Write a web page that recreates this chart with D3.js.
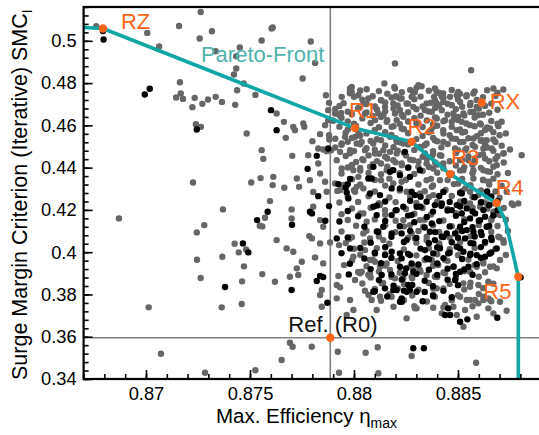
<!DOCTYPE html>
<html><head><meta charset="utf-8">
<script src="https://cdn.jsdelivr.net/npm/d3@7"></script>
<style>
html,body{margin:0;padding:0;background:#fff;}
svg{display:block;font-family:"Liberation Sans",Arial,Helvetica,sans-serif;}
</style></head>
<body>
<svg id="c" width="539" height="435"></svg>
<script>
// ---------- DATA ----------
const xTicks = [0.87, 0.875, 0.88, 0.885];
const xTickLabels = ["0.87", "0.875", "0.88", "0.885"];
const yTicks = [0.34, 0.36, 0.38, 0.4, 0.42, 0.44, 0.46, 0.48, 0.5];
const yTickLabels = ["0.34", "0.36", "0.38", "0.4", "0.42", "0.44", "0.46", "0.48", "0.5"];

// all evaluated designs (grey), scattered part
const grayPoints = [
[0.86761,0.5069],[0.87006,0.50374],[0.87063,0.4973],[0.87159,0.50704],[0.87263,0.51366],[0.87258,0.50109],
[0.87317,0.50454],[0.87335,0.49508],[0.87451,0.49683],[0.87434,0.49272],[0.87556,0.50014],[0.87604,0.50582],
[0.87434,0.4869],[0.87423,0.48407],[0.8747,0.47981],[0.87438,0.47664],[0.87526,0.47442],[0.87163,0.48043],
[0.87167,0.47508],[0.87145,0.4732],[0.87178,0.47253],[0.87234,0.47301],[0.87298,0.47225],[0.87335,0.47348],
[0.87365,0.47111],[0.87271,0.47017],[0.87223,0.46862],[0.87429,0.4697],[0.8724,0.46057],[0.87264,0.45929],
[0.87484,0.45617],[0.87556,0.44828],[0.87564,0.44416],[0.87226,0.433],[0.87506,0.433],[0.87551,0.43504],
[0.87596,0.42416],[0.8737,0.42024],[0.87572,0.41627],[0.87547,0.41248],[0.87559,0.41219],[0.8728,0.41281],
[0.87244,0.40936],[0.87426,0.40397],[0.87446,0.3999],[0.87481,0.40132],[0.87367,0.39782],[0.87245,0.39641],
[0.87471,0.39329],[0.87263,0.38775],[0.87462,0.38619],[0.87559,0.38964],[0.8687,0.41598],[0.87013,0.3739],
[0.87364,0.3739],[0.8746,0.37546],[0.87072,0.35196],[0.87284,0.34298],[0.87526,0.34411],[0.87609,0.50629],
[0.87792,0.49967],[0.87753,0.48218],[0.87813,0.48955],[0.87865,0.47428],[0.8788,0.47064],[0.87876,0.46719],
[0.87909,0.46563],[0.87938,0.46593],[0.87941,0.47348],[0.87981,0.47664],[0.87989,0.4782],[0.88021,0.47428],
[0.87628,0.46563],[0.87663,0.46166],[0.87672,0.45409],[0.87708,0.45929],[0.87716,0.45773],[0.87756,0.46089],
[0.87761,0.45929],[0.878,0.45253],[0.87837,0.45584],[0.87861,0.4601],[0.87876,0.46246],[0.87881,0.45333],
[0.87828,0.44908],[0.87852,0.44861],[0.87869,0.4478],[0.87703,0.44558],[0.8778,0.44591],[0.87828,0.44199],
[0.87837,0.43726],[0.87941,0.45144],[0.87933,0.44747],[0.87981,0.44828],[0.88013,0.45144],[0.88005,0.45456],
[0.88021,0.45645],[0.87957,0.45456],[0.87917,0.44355],[0.87941,0.43962],[0.87986,0.44071],[0.87997,0.43882],
[0.88021,0.43565],[0.87612,0.43565],[0.87609,0.43173],[0.87665,0.43045],[0.87725,0.43489],[0.87736,0.43092],
[0.87788,0.43409],[0.87804,0.4285],[0.87861,0.43329],[0.87869,0.42856],[0.87909,0.43253],[0.87933,0.42936],
[0.88013,0.43092],[0.88005,0.42856],
[0.877,0.42024],[0.877,0.41598],[0.87804,0.42147],[0.87837,0.41518],[0.87852,0.41201],[0.87628,0.40572],
[0.87785,0.40761],[0.87798,0.40652],[0.87837,0.40416],[0.87885,0.40463],[0.87928,0.40336],[0.87977,0.40619],
[0.87676,0.4018],[0.87708,0.40019],[0.87749,0.39546],[0.87725,0.39234],[0.87732,0.38917],[0.87813,0.39754],
[0.87852,0.3947],[0.87692,0.38837],[0.8762,0.386],[0.87925,0.3887],[0.87917,0.38444],[0.87933,0.38336],
[0.87952,0.3939],[0.87997,0.39782],[0.88005,0.38681],[0.87845,0.38208],[0.87837,0.37972],[0.87845,0.37418],
[0.87917,0.37816],[0.87997,0.37262],[0.87965,0.37026],[0.88029,0.38998],[0.88077,0.38998],[0.87981,0.37735],
[0.88053,0.38175],[0.88085,0.37735],[0.88133,0.38525],[0.88253,0.3687],[0.88301,0.37343],[0.88381,0.37371],
[0.88398,0.38288],[0.88494,0.37026],[0.88646,0.37343],[0.88734,0.37229],[0.8859,0.36946],[0.88558,0.37735],
[0.88622,0.37735],[0.88646,0.37816],[0.88277,0.35087],[0.88114,0.35499],[0.88056,0.35244],[0.88117,0.34271],
[0.87928,0.34298],[0.87922,0.35291],[0.87797,0.35527],[0.87705,0.35527],[0.87692,0.35716],[0.87652,0.34898],
[0.88587,0.34771],
[0.88197,0.48927],[0.88563,0.4861],[0.87981,0.47745],[0.87989,0.47584],[0.88061,0.47711],[0.88146,0.47981],
[0.88197,0.47745],[0.88205,0.47348],[0.88229,0.47272],[0.88285,0.47537],[0.88301,0.47792],[0.88325,0.47853],
[0.88389,0.47745],[0.88398,0.47584],[0.88422,0.47348],[0.88462,0.47348],[0.88501,0.47584],[0.88542,0.47428],
[0.88574,0.47508],[0.8867,0.47745],[0.88718,0.47697],[0.88558,0.46956],[0.88574,0.4664],[0.88598,0.46483],
[0.88654,0.45853],[0.88694,0.45962],[0.88638,0.453],[0.88718,0.44671],[0.88686,0.44118],[0.88806,0.44591],
[0.88758,0.42307],[0.8879,0.42307],
[0.88194,0.4782],[0.88202,0.47381],[0.88069,0.47272],[0.8831,0.47901],[0.88293,0.47584],[0.88277,0.47348],
[0.88221,0.47272],[0.88385,0.47348],[0.88429,0.47508],[0.8813,0.47192],[0.88149,0.46875],[0.88101,0.46875],
[0.88189,0.47036],[0.88221,0.46719],[0.88197,0.46563],[0.88253,0.47036],[0.88285,0.46875],[0.88349,0.47036],
[0.88398,0.47036],[0.88429,0.47111],[0.88341,0.46719],[0.88374,0.4664],[0.88422,0.46719],[0.88045,0.47036],
[0.88053,0.46563],[0.88117,0.46563],[0.88141,0.46483],[0.88101,0.46246],[0.88157,0.46166],[0.88205,0.46246],
[0.88237,0.46402],[0.88181,0.45929],[0.88229,0.45853],[0.88398,0.46326],[0.88438,0.46246],[0.88381,0.45929],
[0.88429,0.45773],[0.88037,0.45219],[0.88093,0.45144],[0.8813,0.453],[0.88173,0.45456],[0.88205,0.45219],
[0.88237,0.45144],[0.88317,0.44984],[0.88349,0.45144],[0.88389,0.453],[0.88429,0.45219],[0.88053,0.44828],
[0.88101,0.44671],[0.88141,0.44828],[0.88173,0.44747],[0.88205,0.44671],[0.88341,0.44671],[0.88374,0.44511],
[0.88413,0.44591],[0.88045,0.44355],[0.88077,0.44038],[0.8813,0.44199],[0.88157,0.43882],[0.88189,0.44355],
[0.88229,0.44199],[0.88285,0.44355],[0.88309,0.44038],[0.88349,0.44199],[0.88381,0.43962],[0.88429,0.44199],
[0.8813,0.43409],[0.88189,0.43253],[0.88229,0.43329],[0.88349,0.43409],[0.88374,0.43092],[0.88413,0.43409],
[0.88045,0.43017],[0.88253,0.42856],[0.88317,0.4278],[0.88381,0.427],[0.88429,0.42856],
[0.88494,0.47428],[0.8851,0.47111],[0.8847,0.46956],[0.8859,0.46875],[0.88478,0.46563],[0.88501,0.46402],
[0.88526,0.46563],[0.8847,0.46166],[0.88518,0.46166],[0.88558,0.4601],[0.88606,0.46089],[0.88494,0.45773],
[0.88534,0.45693],[0.8847,0.4538],[0.88526,0.45219],[0.88574,0.4538],[0.88614,0.453],[0.88486,0.44908],
[0.88534,0.44828],[0.88582,0.44984],[0.88622,0.44908],[0.88662,0.44908],[0.8851,0.44355],[0.8855,0.44355],
[0.88582,0.44435],[0.8863,0.44435],[0.88526,0.43882],[0.88574,0.43882],[0.88622,0.43882],[0.88654,0.43801],
[0.88574,0.43489],[0.88622,0.43409],[0.88646,0.43329],[0.88501,0.43253],[0.88534,0.43017],[0.88558,0.42856],
[0.88598,0.427],[0.88734,0.42856],
[0.88045,0.41835],[0.88061,0.41437],[0.88125,0.42227],[0.88149,0.4199],[0.88237,0.41518],[0.88269,0.41281],
[0.88317,0.41518],[0.88333,0.41201],[0.88045,0.40889],[0.88077,0.40652],[0.88141,0.40572],[0.88277,0.40889],
[0.88293,0.40652],[0.88349,0.40572],[0.88413,0.40255],[0.88053,0.40099],[0.88077,0.39627],[0.88101,0.39546],
[0.88125,0.3931],[0.88157,0.3947],[0.88173,0.39154],[0.88293,0.3931],[0.88317,0.39154],[0.88374,0.39627],
[0.88405,0.3939],[0.88438,0.39627],[0.88037,0.39073],[0.88069,0.38917],[0.88197,0.38761],[0.88237,0.38761],
[0.88277,0.38837],[0.88349,0.38917],[0.88389,0.38837],[0.88438,0.38998],[0.88125,0.37891],[0.88181,0.37891],
[0.88293,0.37343],[0.88381,0.38288],[0.88389,0.37891],[0.88438,0.37499],[0.88422,0.37106],[0.88109,0.37262],
[0.88606,0.42147],[0.88638,0.42307],[0.8867,0.41911],[0.88662,0.41598],[0.88702,0.41754],[0.88766,0.42227],
[0.88558,0.42307],[0.8851,0.42383],[0.88694,0.40728],[0.88718,0.40572],[0.88702,0.39627],[0.88686,0.39234],
[0.88622,0.3947],[0.88654,0.3931],[0.8859,0.3931],[0.88558,0.39073],[0.88526,0.38525],[0.88558,0.38364],
[0.88598,0.38444],[0.88646,0.386],[0.8851,0.37891],[0.88542,0.37735],[0.88582,0.37735],[0.88622,0.37891],
[0.88478,0.37418],[0.88534,0.37262],[0.88598,0.37579],[0.88654,0.37735],[0.8867,0.37106],[0.88702,0.37655],
[0.88526,0.36473]
];

// all evaluated designs (grey), dense cluster
const grayCluster = [
[0.8803,0.4765],[0.8812,0.4762],[0.8827,0.4768],[0.8836,0.4764],[0.8847,0.4767],[0.8858,0.4761],[0.8864,0.4766],
[0.8800,0.4735],[0.8809,0.4738],[0.8818,0.4732],[0.8832,0.4736],[0.8843,0.4731],[0.8854,0.4737],[0.8862,0.4733],[0.8868,0.4739],
[0.8795,0.4705],[0.8806,0.4701],[0.8815,0.4708],[0.8826,0.4703],[0.8837,0.4707],[0.8845,0.4702],[0.8856,0.4706],[0.8866,0.4703],
[0.8791,0.4678],[0.8802,0.4681],[0.8811,0.4675],[0.8819,0.4680],[0.8830,0.4676],[0.8839,0.4682],[0.8849,0.4677],[0.8860,0.4679],[0.8869,0.4674],
[0.8793,0.4648],[0.8799,0.4652],[0.8809,0.4645],[0.8823,0.4650],[0.8832,0.4646],[0.8845,0.4651],[0.8853,0.4647],[0.8862,0.4650],
[0.8790,0.4622],[0.8797,0.4619],[0.8816,0.4624],[0.8826,0.4618],[0.8835,0.4623],[0.8843,0.4620],[0.8850,0.4625],[0.8866,0.4621],[0.8871,0.4617],
[0.8793,0.4594],[0.8801,0.4597],[0.8812,0.4591],[0.8819,0.4596],[0.8833,0.4592],[0.8840,0.4598],[0.8847,0.4593],[0.8858,0.4596],[0.8864,0.4590],
[0.8796,0.4565],[0.8806,0.4562],[0.8815,0.4568],[0.8826,0.4563],[0.8836,0.4567],[0.8843,0.4561],[0.8852,0.4566],[0.8861,0.4563],[0.8867,0.4568],[0.8873,0.4562],
[0.8791,0.4537],[0.8799,0.4540],[0.8811,0.4534],[0.8820,0.4539],[0.8830,0.4535],[0.8838,0.4541],[0.8849,0.4536],[0.8855,0.4539],[0.8867,0.4533],
[0.8794,0.4508],[0.8803,0.4511],[0.8815,0.4505],[0.8826,0.4510],[0.8834,0.4506],[0.8845,0.4512],[0.8857,0.4507],[0.8863,0.4510],[0.8871,0.4504],
[0.8789,0.4482],[0.8800,0.4479],[0.8810,0.4485],[0.8821,0.4480],[0.8829,0.4484],[0.8838,0.4478],[0.8850,0.4483],[0.8867,0.4480],[0.8875,0.4486],
[0.8796,0.4455],[0.8807,0.4458],[0.8815,0.4452],[0.8825,0.4457],[0.8833,0.4451],[0.8842,0.4456],[0.8855,0.4453],[0.8860,0.4459],[0.8869,0.4454],
[0.8801,0.4427],[0.8811,0.4431],[0.8820,0.4425],[0.8831,0.4429],[0.8839,0.4424],[0.8846,0.4430],[0.8858,0.4426],[0.8865,0.4430],[0.8872,0.4424],
[0.8797,0.4401],[0.8803,0.4398],[0.8816,0.4404],[0.8826,0.4399],[0.8836,0.4403],[0.8843,0.4397],[0.8853,0.4402],[0.8861,0.4399],[0.8867,0.4404],
[0.8794,0.4372],[0.8807,0.4375],[0.8813,0.4369],[0.8822,0.4374],[0.8829,0.4370],[0.8840,0.4376],[0.8847,0.4371],[0.8857,0.4374],[0.8869,0.4369],[0.8874,0.4375],
[0.8799,0.4345],[0.8810,0.4342],[0.8817,0.4348],[0.8825,0.4343],[0.8837,0.4347],[0.8845,0.4341],[0.8852,0.4346],[0.8862,0.4343],[0.8867,0.4348],
[0.8795,0.4318],[0.8803,0.4321],[0.8815,0.4315],[0.8831,0.4320],[0.8838,0.4316],[0.8848,0.4322],[0.8856,0.4317],[0.8865,0.4320],[0.8871,0.4314],
[0.8792,0.4290],[0.8800,0.4293],[0.8810,0.4287],[0.8822,0.4292],[0.8834,0.4288],[0.8844,0.4294],[0.8852,0.4289],[0.8861,0.4292],[0.8868,0.4287],
[0.8797,0.4262],[0.8807,0.4265],[0.8817,0.4259],[0.8827,0.4264],[0.8836,0.4260],[0.8847,0.4266],[0.8857,0.4261],[0.8864,0.4264],[0.8870,0.4258],
[0.8793,0.4235],[0.8802,0.4238],[0.8812,0.4232],[0.8820,0.4237],[0.8830,0.4233],[0.8840,0.4239],[0.8853,0.4234],[0.8862,0.4237],[0.8867,0.4231],
[0.8799,0.4207],[0.8808,0.4210],[0.8825,0.4204],[0.8833,0.4209],[0.8845,0.4205],[0.8857,0.4211],[0.8864,0.4206],[0.8872,0.4209],
[0.8794,0.4180],[0.8803,0.4183],[0.8815,0.4177],[0.8829,0.4182],[0.8837,0.4178],[0.8849,0.4184],[0.8868,0.4179],
[0.8797,0.4152],[0.8810,0.4155],[0.8820,0.4149],[0.8834,0.4154],[0.8843,0.4150],[0.8853,0.4156],[0.8866,0.4151],[0.8873,0.4154],
[0.8801,0.4125],[0.8815,0.4128],[0.8824,0.4122],[0.8838,0.4127],[0.8847,0.4123],[0.8860,0.4129],[0.8869,0.4124],
[0.8794,0.4098],[0.8806,0.4101],[0.8820,0.4095],[0.8831,0.4100],[0.8841,0.4096],[0.8850,0.4102],[0.8866,0.4097],[0.8874,0.4100],
[0.8799,0.4071],[0.8812,0.4074],[0.8826,0.4068],[0.8835,0.4073],[0.8846,0.4069],[0.8856,0.4075],[0.8870,0.4070],
[0.8796,0.4043],[0.8805,0.4046],[0.8817,0.4040],[0.8830,0.4045],[0.8841,0.4041],[0.8851,0.4047],[0.8863,0.4042],[0.8872,0.4045],
[0.8800,0.4016],[0.8811,0.4019],[0.8824,0.4013],[0.8836,0.4018],[0.8846,0.4014],[0.8858,0.4020],[0.8868,0.4015],
[0.8803,0.3988],[0.8815,0.3991],[0.8830,0.3985],[0.8840,0.3990],[0.8850,0.3986],[0.8865,0.3992],[0.8873,0.3987],
[0.8799,0.3961],[0.8809,0.3964],[0.8821,0.3958],[0.8834,0.3963],[0.8845,0.3959],[0.8855,0.3965],[0.8862,0.3960],
[0.8806,0.3934],[0.8815,0.3937],[0.8827,0.3931],[0.8838,0.3936],[0.8848,0.3932],[0.8858,0.3938],[0.8867,0.3933],
[0.8802,0.3906],[0.8812,0.3909],[0.8822,0.3903],[0.8832,0.3908],[0.8843,0.3904],[0.8853,0.3910],[0.8863,0.3905],
[0.8808,0.3880],[0.8818,0.3883],[0.8828,0.3877],[0.8840,0.3882],[0.8849,0.3878],[0.8860,0.3884],
[0.8804,0.3852],[0.8814,0.3855],[0.8824,0.3849],[0.8836,0.3854],[0.8846,0.3850],[0.8856,0.3856],[0.8867,0.3851],
[0.8810,0.3826],[0.8821,0.3829],[0.8831,0.3823],[0.8843,0.3828],[0.8853,0.3824],[0.8862,0.3830],
[0.8807,0.3798],[0.8817,0.3801],[0.8828,0.3795],[0.8838,0.3800],[0.8850,0.3796],[0.8860,0.3802],
[0.8813,0.3770],[0.8824,0.3773],[0.8835,0.3767],[0.8847,0.3772],[0.8866,0.3768],
[0.8819,0.3742],[0.8829,0.3745],[0.8843,0.3739],[0.8857,0.3744],
[0.8798,0.4752],[0.8816,0.4750],[0.8823,0.4757],[0.8841,0.4753],[0.8851,0.4749],[0.8869,0.4755],
[0.8804,0.4722],[0.8813,0.4719],[0.8829,0.4724],[0.8839,0.4718],[0.8850,0.4723],[0.8859,0.4720],
[0.8793,0.4692],[0.8810,0.4690],[0.8821,0.4694],[0.8833,0.4689],[0.8841,0.4693],[0.8852,0.4688],[0.8863,0.4692],
[0.8797,0.4665],[0.8806,0.4661],[0.8815,0.4667],[0.8826,0.4662],[0.8836,0.4666],[0.8856,0.4663],[0.8865,0.4660],
[0.8794,0.4636],[0.8804,0.4633],[0.8813,0.4639],[0.8829,0.4634],[0.8839,0.4638],[0.8848,0.4632],[0.8858,0.4637],
[0.8800,0.4608],[0.8808,0.4611],[0.8822,0.4606],[0.8830,0.4610],[0.8838,0.4605],[0.8854,0.4609],[0.8861,0.4604],[0.8869,0.4608],
[0.8797,0.4580],[0.8810,0.4578],[0.8824,0.4582],[0.8837,0.4577],[0.8851,0.4581],[0.8863,0.4578],
[0.8788,0.4553],[0.8803,0.4551],[0.8818,0.4555],[0.8833,0.4550],[0.8846,0.4554],[0.8859,0.4549],[0.8870,0.4553],
[0.8797,0.4522],[0.8808,0.4526],[0.8822,0.4520],[0.8840,0.4525],[0.8851,0.4521],[0.8861,0.4527],[0.8868,0.4521],
[0.8791,0.4495],[0.8806,0.4492],[0.8819,0.4497],[0.8832,0.4493],[0.8842,0.4496],[0.8854,0.4491],[0.8864,0.4495],
[0.8798,0.4468],[0.8812,0.4466],[0.8824,0.4470],[0.8838,0.4465],[0.8849,0.4469],[0.8862,0.4464],[0.8872,0.4468],
[0.8804,0.4440],[0.8816,0.4443],[0.8827,0.4438],[0.8835,0.4442],[0.8852,0.4437],[0.8868,0.4441],
[0.8799,0.4413],[0.8809,0.4416],[0.8823,0.4411],[0.8840,0.4415],[0.8849,0.4410],[0.8857,0.4414],
[0.8803,0.4386],[0.8818,0.4388],[0.8833,0.4384],[0.8851,0.4387],[0.8864,0.4383]
];

// feasible designs (black), scattered part
const blackPoints = [
[0.86793,0.50468],[0.86796,0.50061],[0.86994,0.47461],[0.87018,0.47729],[0.87601,0.46719],[0.87244,0.45806],
[0.87585,0.41911],[0.87534,0.41518],[0.87466,0.40416],[0.87492,0.3999],[0.8738,0.3835],[0.87628,0.45773],
[0.87876,0.44908],[0.87821,0.44558],[0.87777,0.43943],[0.87828,0.42652],[0.87981,0.4347],[0.8797,0.4322],
[0.8796,0.43064],[0.87965,0.42828],[0.87973,0.42544],[0.87925,0.4322],[0.87702,0.41296],[0.87788,0.41911],
[0.87798,0.41835],[0.87862,0.41485],[0.87917,0.40652],[0.87981,0.4018],[0.87821,0.38634],[0.87837,0.3887],
[0.87852,0.38822],[0.87975,0.3895],[0.877,0.38208],[0.87872,0.37607],[0.88149,0.38288],[0.88189,0.38208],
[0.88221,0.37655],[0.88253,0.38128],[0.88301,0.38128],[0.88453,0.37343],[0.88462,0.37026],[0.8851,0.36709],
[0.88545,0.36823],[0.88689,0.36898],[0.88285,0.35452],[0.88336,0.35452],[0.88801,0.38809],
[0.88245,0.44747],[0.88093,0.44038],[0.88085,0.43489],[0.88173,0.43801],[0.88189,0.43882],[0.88221,0.43645],
[0.88261,0.4401],[0.88317,0.43882],[0.88069,0.43489],[0.88269,0.43565],[0.88181,0.43017],[0.88221,0.43017],
[0.88277,0.42856],[0.88293,0.427],[0.88077,0.4278],[0.88125,0.427],[0.88518,0.4278],
[0.88093,0.42147],[0.88109,0.41754],[0.88181,0.41754],[0.88205,0.4199],[0.88237,0.42147],[0.88277,0.41754],
[0.88301,0.42147],[0.88349,0.42383],[0.88389,0.42227],[0.88422,0.42307],[0.88117,0.40965],[0.88141,0.41201],
[0.88181,0.40889],[0.88229,0.40889],[0.88253,0.40572],[0.88374,0.41362],[0.88365,0.40965],[0.88389,0.40572],
[0.88422,0.40728],[0.88446,0.40889],[0.88101,0.39943],[0.88149,0.39863],[0.88181,0.40019],[0.88221,0.39943],
[0.88229,0.39707],[0.88269,0.39863],[0.88277,0.3947],[0.88341,0.40099],[0.88349,0.39707],[0.88381,0.39943],
[0.88413,0.4018],[0.88221,0.3931],[0.88245,0.38998],[0.88133,0.38917],[0.88285,0.39073],[0.88261,0.38444],
[0.88269,0.38208],[0.88205,0.38208],[0.88229,0.37816],[0.88093,0.38128],[0.88438,0.37026],[0.88453,0.39943],
[0.8847,0.4199],[0.88494,0.42227],[0.88518,0.41835],[0.88542,0.42071],[0.88558,0.41598],[0.88582,0.41835],
[0.88606,0.41518],[0.88622,0.4199],[0.88638,0.41201],[0.88614,0.40809],[0.88574,0.40965],[0.88542,0.41045],
[0.8851,0.41201],[0.88486,0.40889],[0.88534,0.40652],[0.88574,0.40416],[0.88494,0.40255],[0.88662,0.40572],
[0.88686,0.4018],[0.88654,0.39943],[0.8863,0.39782],[0.8859,0.39863],[0.88558,0.39863],[0.88526,0.40019],
[0.88478,0.3931],[0.8851,0.39073],[0.8855,0.3931],[0.88486,0.38681]
];

// feasible designs (black), dense cluster
const blackCluster = [
[0.8843,0.4285],[0.8851,0.4281],[0.8864,0.4287],
[0.8832,0.4262],[0.8841,0.4266],[0.8858,0.4260],[0.8866,0.4264],
[0.8815,0.4240],[0.8827,0.4243],[0.8846,0.4238],[0.8853,0.4242],[0.8861,0.4236],[0.8869,0.4241],
[0.8788,0.4218],[0.8811,0.4221],[0.8832,0.4215],[0.8842,0.4220],[0.8851,0.4216],[0.8865,0.4222],
[0.8797,0.4195],[0.8820,0.4198],[0.8838,0.4192],[0.8845,0.4197],[0.8857,0.4193],[0.8869,0.4199],
[0.8802,0.4170],[0.8826,0.4173],[0.8835,0.4167],[0.8849,0.4172],[0.8863,0.4168],[0.8867,0.4174],
[0.8793,0.4145],[0.8815,0.4148],[0.8829,0.4142],[0.8841,0.4147],[0.8853,0.4143],[0.8860,0.4149],
[0.8805,0.4120],[0.8822,0.4123],[0.8834,0.4117],[0.8846,0.4122],[0.8857,0.4118],[0.8865,0.4124],
[0.8811,0.4098],[0.8827,0.4101],[0.8839,0.4095],[0.8852,0.4100],[0.8861,0.4096],
[0.8797,0.4070],[0.8818,0.4073],[0.8830,0.4067],[0.8843,0.4072],[0.8850,0.4068],[0.8858,0.4074],[0.8866,0.4069],
[0.8808,0.4045],[0.8824,0.4048],[0.8836,0.4042],[0.8847,0.4047],[0.8856,0.4043],[0.8863,0.4049],
[0.8803,0.4020],[0.8815,0.4023],[0.8832,0.4017],[0.8840,0.4022],[0.8851,0.4018],[0.8861,0.4024],
[0.8794,0.3995],[0.8810,0.3998],[0.8826,0.3992],[0.8846,0.3997],[0.8856,0.3993],[0.8866,0.3999],
[0.8805,0.3970],[0.8818,0.3973],[0.8836,0.3967],[0.8843,0.3972],[0.8852,0.3968],[0.8861,0.3974],
[0.8798,0.3945],[0.8813,0.3948],[0.8831,0.3942],[0.8840,0.3947],[0.8859,0.3943],
[0.8808,0.3920],[0.8825,0.3923],[0.8836,0.3917],[0.8845,0.3922],[0.8853,0.3918],
[0.8818,0.3895],[0.8830,0.3898],[0.8840,0.3892],[0.8849,0.3897],[0.8857,0.3893],
[0.8812,0.3868],[0.8823,0.3871],[0.8834,0.3865],[0.8845,0.3870],
[0.8819,0.3842],[0.8828,0.3845],[0.8838,0.3839],[0.8850,0.3844],
[0.8810,0.3815],[0.8824,0.3818],[0.8834,0.3812],[0.8843,0.3817],
[0.8816,0.3790],[0.8838,0.3793],[0.8847,0.3787],
[0.8823,0.3765],[0.8833,0.3768]
];

// Pareto front polyline
const paretoX = [0.867, 0.86793, 0.88005, 0.88277, 0.88462, 0.88686, 0.88727, 0.8879, 0.8879];
const paretoY = [0.5063, 0.50582, 0.45868, 0.4522, 0.43693, 0.42322, 0.41518, 0.38837, 0.34];

// highlighted designs
const highlightNames = ["RZ", "R1", "R2", "R3", "R4", "R5", "RX", "Ref. (R0)"];
const highlightX = [0.86793, 0.88005, 0.88277, 0.88462, 0.88686, 0.8879, 0.88614, 0.87886];
const highlightY = [0.50582, 0.45868, 0.4522, 0.43693, 0.42322, 0.38837, 0.47083, 0.35953];

const refX = 0.87886, refY = 0.35953;

// ---------- CHART ----------
const svg = d3.select("#c");
const L = 83.6, R = 541.2, T = 7, B = 379;
const x = d3.scaleLinear().domain([0.867, 0.889]).range([L, R]);
const y = d3.scaleLinear().domain([0.34, 0.516]).range([B, T]);

const ORANGE = "#ff6418", TEAL = "#10a6a6", GREY = "#666666";

// reference lines
svg.append("line").attr("x1", x(refX)).attr("x2", x(refX)).attr("y1", T).attr("y2", B)
  .attr("stroke", "#808080").attr("stroke-width", 1.6);
svg.append("line").attr("x1", L).attr("x2", R).attr("y1", y(refY)).attr("y2", y(refY))
  .attr("stroke", "#808080").attr("stroke-width", 1.6);

// points
const allGray = grayPoints.concat(grayCluster);
const allBlack = blackPoints.concat(blackCluster);
svg.append("g").selectAll("circle").data(allGray).join("circle")
  .attr("cx", d => x(d[0])).attr("cy", d => y(d[1])).attr("r", 3.2).attr("fill", GREY);
svg.append("g").selectAll("circle").data(allBlack).join("circle")
  .attr("cx", d => x(d[0])).attr("cy", d => y(d[1])).attr("r", 3.2).attr("fill", "#000");

// pareto front
const pf = paretoX.map((v, i) => [v, paretoY[i]]);
svg.append("path").datum(pf)
  .attr("d", d3.line().x(d => x(d[0])).y(d => y(d[1])))
  .attr("fill", "none").attr("stroke", TEAL).attr("stroke-width", 3.6).attr("stroke-linejoin", "round");

// highlighted points
const hl = highlightNames.map((n, i) => ({n, x: highlightX[i], y: highlightY[i]}));
svg.append("g").selectAll("circle").data(hl).join("circle")
  .attr("cx", d => x(d.x)).attr("cy", d => y(d.y)).attr("r", 4.2).attr("fill", ORANGE);

// labels (offsets relative to the point)
const labelOff = {"RZ": [18, 0], "R1": [-6, -10], "R2": [-4, -8], "R3": [1, -9], "R4": [-1, -8],
  "R5": [-35, 22], "RX": [8, 7], "Ref. (R0)": [-42, -6]};
svg.append("g").selectAll("text").data(hl).join("text")
  .attr("x", d => x(d.x) + labelOff[d.n][0]).attr("y", d => y(d.y) + labelOff[d.n][1])
  .attr("font-size", 22).attr("fill", d => d.n.startsWith("Ref") ? "#111" : ORANGE)
  .text(d => d.n);

svg.append("text").attr("x", x(0.87264)).attr("y", y(0.49012)).attr("font-size", 22)
  .attr("fill", "#52b3ae").text("Pareto-Front");

// axes
const gx = svg.append("g").attr("transform", `translate(0,${B})`)
  .call(d3.axisBottom(x).tickValues(xTicks).tickFormat((d, i) => xTickLabels[i]).tickSize(-9).tickPadding(8));
const gxm = svg.append("g").attr("transform", `translate(0,${B})`)
  .call(d3.axisBottom(x).tickValues(d3.range(0, 23).map(i => 0.867 + i * 0.001)).tickFormat("").tickSize(-5));
const gy = svg.append("g").attr("transform", `translate(${L},0)`)
  .call(d3.axisLeft(y).tickValues(yTicks).tickFormat((d, i) => yTickLabels[i]).tickSize(-9).tickPadding(7));
const gym = svg.append("g").attr("transform", `translate(${L},0)`)
  .call(d3.axisLeft(y).tickValues(d3.range(0, 45).map(i => 0.34 + i * 0.004)).tickFormat("").tickSize(-5));
[gxm, gym].forEach(g => g.selectAll("text").remove());
[gx, gxm, gy, gym].forEach(g => {
  g.select(".domain").remove();
  g.selectAll("line").attr("stroke", "#000").attr("stroke-width", 1.6);
  g.selectAll("text").attr("font-size", 18.3).attr("fill", "#000").attr("font-family", "Liberation Sans, Arial, sans-serif");
});

// frame
svg.append("rect").attr("x", L).attr("y", T).attr("width", R - L).attr("height", B - T)
  .attr("fill", "none").attr("stroke", "#000").attr("stroke-width", 2.2);

// axis titles
const xt = svg.append("text").attr("x", 216).attr("y", 422.5).attr("font-size", 20.5).attr("fill", "#000");
xt.append("tspan").text("Max. Efficiency η");
xt.append("tspan").attr("font-size", 14).attr("dy", 5).text("max");

const yt = svg.append("text").attr("transform", "translate(27,380) rotate(-90)")
  .attr("font-size", 21.5).attr("fill", "#000");
yt.append("tspan").text("Surge Margin Criterion (Iterative) SMC");
yt.append("tspan").attr("font-size", 14).attr("dy", 5).text("I");
</script>
</body></html>
